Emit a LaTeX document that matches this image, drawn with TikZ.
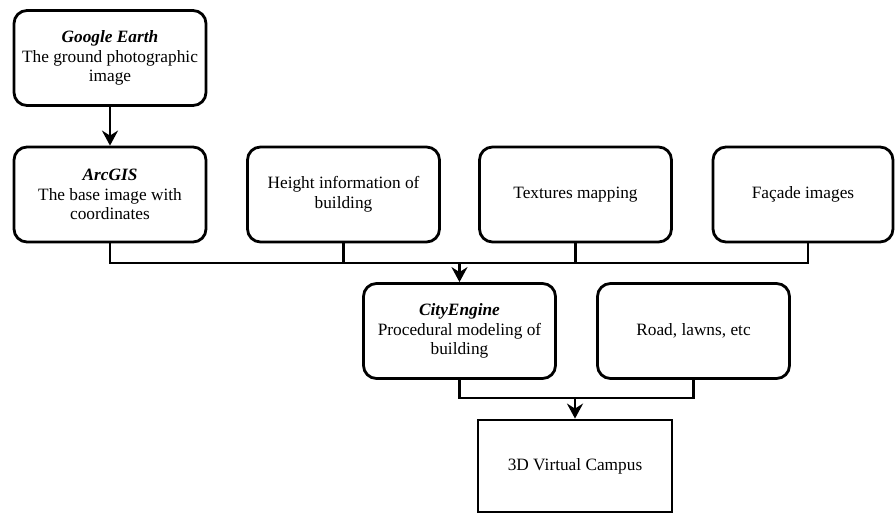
\documentclass[tikz,border=0pt]{standalone}
\usepackage{fontspec}
\setmainfont{Liberation Serif}
\usetikzlibrary{arrows.meta}
\begin{document}
\begin{tikzpicture}[x=1pt,y=-1pt,
 box/.style={draw, line width=2.8pt, rounded corners=13pt, minimum width=192pt, minimum height=95pt, align=center, inner sep=2pt, font=\fontsize{17.3}{19.8}\selectfont},
 sqbox/.style={box, rounded corners=0pt},
 conn/.style={line width=2.8pt},
 arr/.style={conn, -{Stealth[length=15pt,width=16pt,inset=5pt]}}]
\useasboundingbox (0,0) rectangle (896,514);
\node[box] (ge) at (110,58) {\textbf{\textit{Google Earth}}\\The ground photographic\\image};
\node[box] (arc) at (110,194.5) {\textbf{\textit{ArcGIS}}\\The base image with\\coordinates};
\node[box] (hgt) at (343.5,194.5) {Height information of\\building};
\node[box] (tex) at (575.5,194.5) {Textures mapping};
\node[box, minimum width=180pt] (fac) at (803,194.5) {Façade images};
\node[box] (city) at (459.5,331) {\textbf{\textit{CityEngine}}\\Procedural modeling of\\building};
\node[box] (road) at (693.5,331) {Road, lawns, etc};
\node[sqbox, minimum height=92pt, minimum width=194pt] (vc) at (575,466) {3D Virtual Campus};
\coordinate (bus) at (0,263);
\coordinate (bus2) at (0,398);
\coordinate (facout) at ([xshift=5pt]fac.south);
\draw[arr] (ge) -- (arc);
\draw[conn] (arc.south) -- (arc.south |- bus) -- (facout |- bus) -- (facout);
\draw[conn] (hgt.south) -- (hgt.south |- bus);
\draw[conn] (tex.south) -- (tex.south |- bus);
\draw[arr] (city.north |- bus) -- (city.north);
\draw[conn] (city.south) -- (city.south |- bus2) -- (road.south |- bus2) -- (road.south);
\draw[arr] (vc.north |- bus2) -- (vc.north);
\end{tikzpicture}
\end{document}
